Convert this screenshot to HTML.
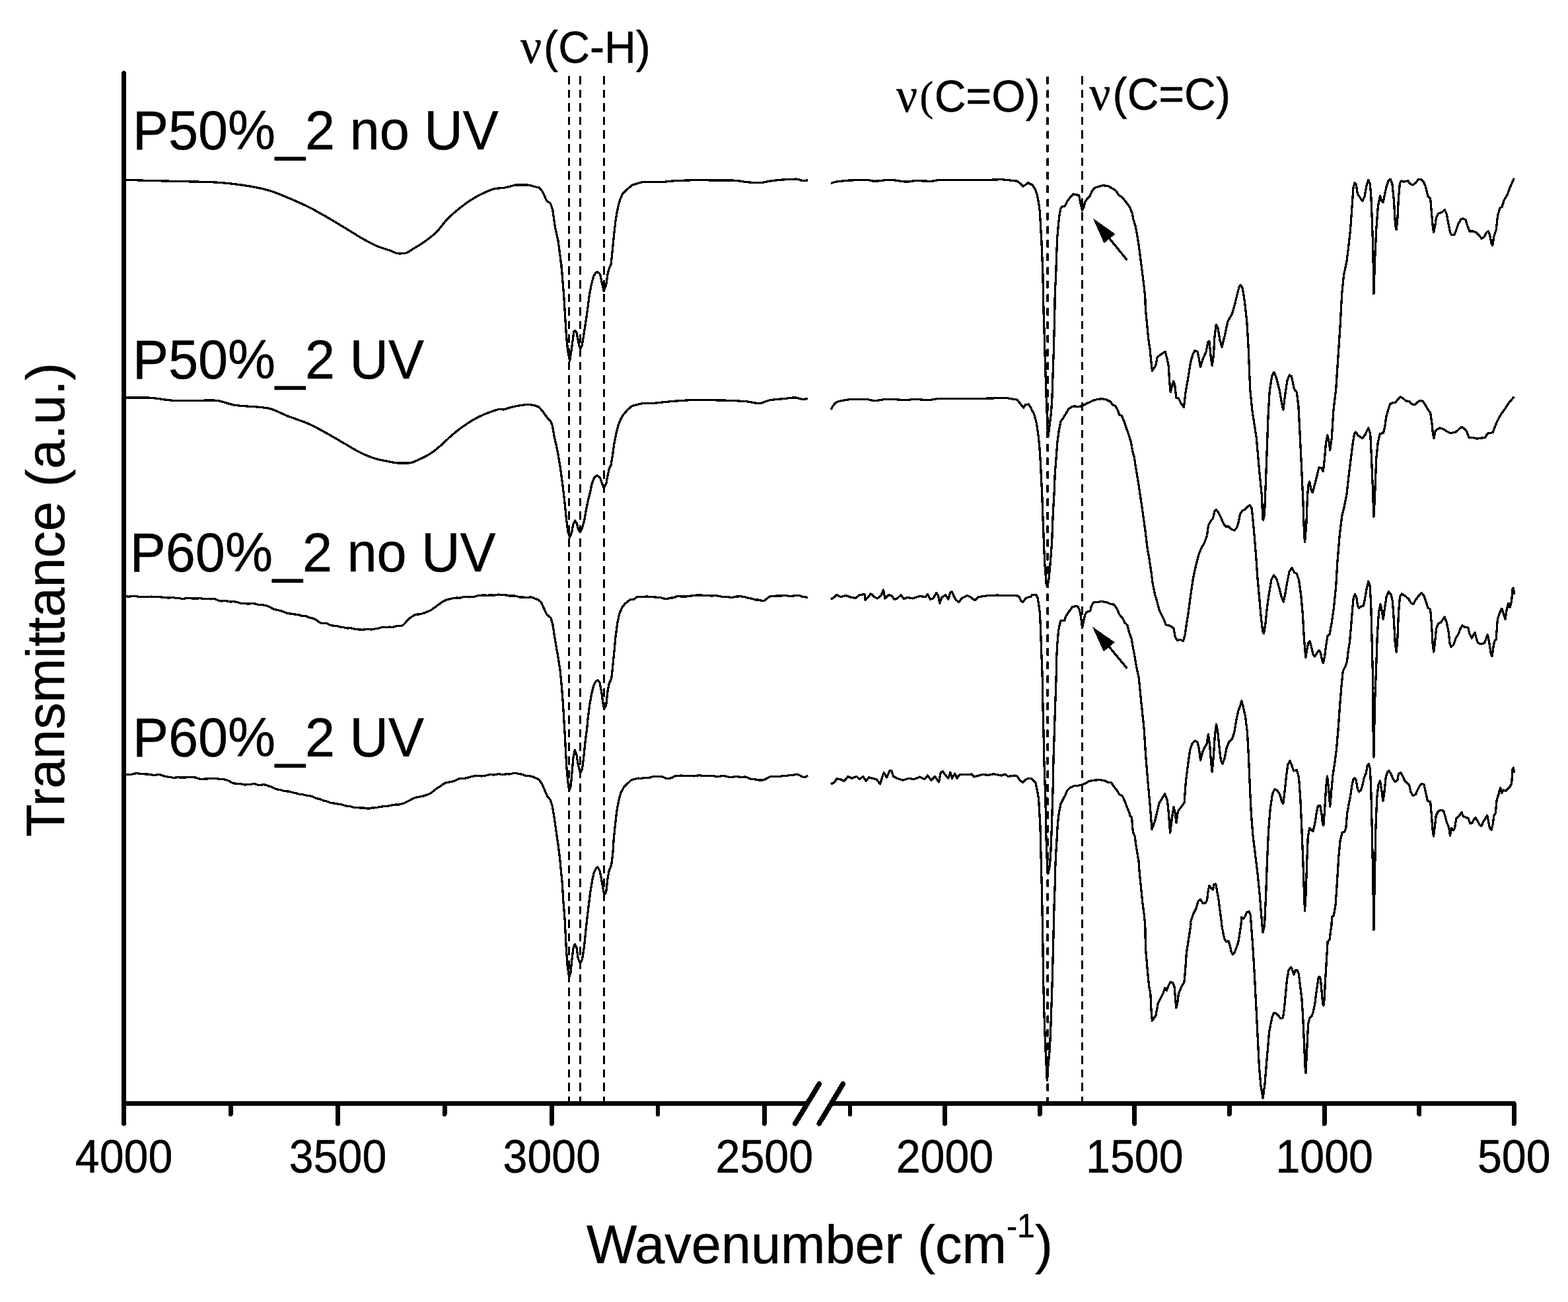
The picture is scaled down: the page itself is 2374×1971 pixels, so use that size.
<!DOCTYPE html>
<html lang="en"><head><meta charset="utf-8"><title>FTIR transmittance spectra</title>
<style>html,body{margin:0;padding:0;background:#fff;}body{width:2374px;height:1971px;overflow:hidden;}svg{display:block;}text{font-family:"Liberation Sans", Arial, Helvetica, sans-serif;fill:#000;stroke:#000;stroke-width:0.5px;stroke-linejoin:round;}.s{font-family:"Liberation Serif", "Times New Roman", serif;}</style>
</head><body>
<svg width="2374" height="1971" viewBox="0 0 2374 1971" role="img" aria-label="FTIR transmittance spectra of P50%_2 and P60%_2 with and without UV"><title>FTIR transmittance spectra</title>
<rect x="0" y="0" width="2374" height="1971" fill="#fff"/>
<g stroke="#000" fill="none" shape-rendering="crispEdges">
<line x1="861.5" y1="114.9" x2="861.5" y2="1668" stroke-width="3" stroke-dasharray="12.6 8"/>
<line x1="878.6" y1="114.9" x2="878.6" y2="1668" stroke-width="3" stroke-dasharray="12.6 8"/>
<line x1="914.5" y1="114.9" x2="914.5" y2="1668" stroke-width="3" stroke-dasharray="12.6 8"/>
<line x1="1586.1" y1="117.4" x2="1586.1" y2="1668" stroke-width="4" stroke-dasharray="8.4 12.2" stroke-linecap="round"/>
<line x1="1638.6" y1="114.9" x2="1638.6" y2="1668" stroke-width="3" stroke-dasharray="12.6 8"/>
</g>
<g shape-rendering="crispEdges">
<polyline points="190.9,272.4 193.9,272.5 196.9,272.6 199.9,272.7 202.9,272.8 205.9,272.8 208.9,272.9 211.9,273.0 214.9,273.1 217.9,273.2 221.0,273.2 224.0,273.3 227.0,273.4 230.0,273.5 233.0,273.6 236.0,273.6 239.0,273.7 242.0,273.8 245.0,273.9 248.0,274.0 251.0,274.0 254.0,274.1 257.0,274.2 260.0,274.3 263.0,274.4 266.0,274.4 269.1,274.5 272.1,274.6 275.1,274.6 278.1,274.7 281.1,274.8 284.1,274.8 287.1,274.9 290.1,274.9 293.1,275.0 296.1,275.1 299.1,275.1 302.1,275.2 305.1,275.3 308.1,275.4 311.1,275.4 314.1,275.5 317.2,275.6 320.2,275.7 323.2,275.9 326.2,276.0 329.2,276.2 332.2,276.4 335.2,276.6 338.2,276.9 341.2,277.2 344.2,277.5 347.2,277.8 350.2,278.1 353.2,278.5 356.2,278.9 359.2,279.2 362.2,279.6 365.3,280.0 368.3,280.4 371.3,280.9 374.3,281.3 377.3,281.8 380.3,282.3 383.3,282.9 386.3,283.4 389.3,284.0 392.3,284.7 395.3,285.3 398.3,286.0 401.3,286.8 404.3,287.5 407.3,288.4 410.3,289.3 413.4,290.3 416.4,291.4 419.4,292.6 422.4,293.7 425.4,295.0 428.4,296.2 431.4,297.5 434.4,298.7 437.4,300.0 440.4,301.2 443.4,302.5 446.4,303.8 449.4,305.1 452.4,306.4 455.4,307.8 458.4,309.2 461.5,310.6 464.5,312.0 467.5,313.5 470.5,315.1 473.5,316.6 476.5,318.2 479.5,319.9 482.5,321.6 485.5,323.3 488.5,325.0 491.5,326.7 494.5,328.4 497.5,330.2 500.5,331.9 503.5,333.7 506.5,335.5 509.6,337.3 512.6,339.2 515.6,341.0 518.6,342.8 521.6,344.6 524.6,346.5 527.6,348.3 530.6,350.1 533.6,352.0 536.6,353.8 539.6,355.7 542.6,357.5 545.6,359.3 548.6,361.1 551.6,362.7 554.6,364.4 557.7,366.0 560.7,367.6 563.7,369.2 566.7,370.7 569.7,372.0 572.7,373.3 575.7,374.4 578.7,375.5 581.7,376.4 584.7,377.4 587.7,378.3 590.7,379.3 593.7,380.6 596.7,381.9 599.7,383.1 602.7,383.8 605.8,383.9 608.8,383.8 611.8,383.5 614.8,383.0 617.8,381.7 620.8,379.9 623.8,377.8 626.8,375.9 629.8,374.1 632.8,372.3 635.8,370.5 638.8,368.6 641.8,366.5 644.8,364.4 647.8,362.2 650.8,359.9 653.9,357.4 656.9,354.9 659.9,352.1 662.9,349.1 665.9,345.6 668.9,341.8 671.9,337.9 674.9,334.3 677.9,331.2 680.9,328.2 683.9,325.4 686.9,322.7 689.9,320.1 692.9,317.6 695.9,315.1 698.9,312.8 702.0,310.5 705.0,308.2 708.0,306.1 711.0,304.1 714.0,302.2 717.0,300.3 720.0,298.5 723.0,296.8 726.0,295.2 729.0,293.7 732.0,292.4 735.0,291.0 738.0,289.6 741.0,288.4 744.0,287.2 747.0,286.2 750.1,285.5 753.1,285.1 756.1,284.9 759.1,284.8 762.1,284.5 765.1,283.9 768.1,283.2 771.1,282.5 774.1,281.8 777.1,280.9 780.1,280.2 783.1,279.9 786.1,279.9 789.1,279.9 792.1,279.9 795.1,279.9 798.1,279.9 801.2,280.3 804.2,281.1 807.2,281.9 810.2,282.7 813.2,283.4 816.2,284.1 820.8,289.3 824.2,296.2 827.7,304.2 833.4,307.7 836.8,318.0 840.3,343.2 844.9,363.8 848.3,389.1 850.6,409.7 850.0,400.0 851.7,422.9 854.0,451.6 855.7,480.3 857.5,508.9 859.8,531.9 862.6,546.2 864.9,531.9 867.2,514.7 868.9,502.1 870.7,500.3 872.9,503.2 874.7,512.4 877.0,523.8 878.7,527.3 881.0,523.8 883.3,510.1 885.6,495.2 887.9,480.3 890.1,464.2 892.4,445.9 895.3,431.0 898.7,418.3 901.6,413.2 905.1,411.5 908.5,414.9 911.4,428.7 914.2,440.7 917.7,431.0 920.0,414.9 922.3,406.3 925.1,400.0 927.4,377.6 929.7,354.7 932.0,334.0 935.4,314.5 938.9,301.9 942.3,293.9 949.2,287.0 957.2,280.1 966.4,277.3 969.4,276.3 972.4,275.8 975.4,275.7 978.3,275.7 981.3,275.7 984.3,275.7 987.3,275.6 990.3,275.6 993.3,275.6 996.3,275.6 999.2,275.6 1002.2,275.5 1005.2,275.3 1008.2,275.0 1011.2,274.7 1014.2,274.4 1017.1,274.1 1020.1,273.8 1023.1,273.7 1026.1,273.5 1029.1,273.4 1032.1,273.3 1035.1,273.2 1038.0,273.1 1041.0,273.0 1044.0,272.9 1047.0,272.8 1050.0,272.8 1053.0,272.8 1055.9,272.8 1058.9,272.8 1061.9,272.8 1064.9,272.8 1067.9,272.8 1070.9,272.8 1073.9,272.9 1076.8,272.9 1079.8,272.9 1082.8,272.9 1085.8,272.9 1088.8,272.9 1091.8,272.9 1094.7,273.0 1097.7,273.0 1100.7,273.0 1103.7,273.0 1106.7,273.1 1109.7,273.1 1112.7,273.3 1115.6,273.5 1118.6,273.9 1121.6,274.3 1124.6,274.7 1127.6,275.2 1130.6,275.5 1133.6,275.9 1136.5,276.1 1139.5,276.3 1142.5,276.6 1145.5,276.7 1148.5,276.8 1151.5,276.7 1154.4,276.3 1157.4,275.7 1160.4,275.1 1163.4,274.4 1166.4,274.0 1169.4,273.6 1172.4,273.2 1175.3,272.9 1178.3,272.6 1181.3,272.3 1184.3,272.1 1187.3,271.9 1190.3,271.7 1193.2,271.5 1196.2,271.4 1199.2,271.2 1202.2,271.2 1205.2,271.1 1208.2,271.3 1211.2,272.4 1214.1,273.3 1217.1,273.4 1220.1,273.2 1223.1,272.8" fill="none" stroke="#000" stroke-width="3.30" stroke-linejoin="round" stroke-linecap="butt" />
<polyline points="1258.1,277.4 1261.1,276.5 1264.1,275.6 1267.1,275.0 1270.1,274.6 1273.1,274.3 1276.1,273.9 1279.1,273.6 1282.1,273.4 1285.1,273.1 1288.1,273.0 1291.1,272.9 1294.1,272.8 1297.1,272.7 1300.1,272.7 1303.1,272.6 1306.1,272.6 1309.1,272.5 1312.1,272.5 1315.1,272.7 1318.1,273.3 1321.1,274.0 1324.1,274.2 1327.1,274.1 1330.1,273.9 1333.1,273.6 1336.1,273.2 1339.1,272.8 1342.1,272.5 1345.1,272.3 1348.1,272.3 1351.1,272.4 1354.1,272.8 1357.1,273.2 1360.1,273.7 1363.1,274.2 1366.1,274.6 1369.1,275.0 1372.1,275.1 1375.1,275.0 1378.1,274.7 1381.1,274.2 1384.1,273.8 1387.1,273.7 1390.1,273.7 1393.1,273.8 1396.1,273.9 1399.1,274.0 1402.1,274.1 1405.1,274.2 1408.1,274.2 1411.1,274.2 1414.1,273.8 1417.1,273.1 1420.1,272.6 1423.1,272.5 1426.1,272.5 1429.1,272.5 1432.1,272.6 1435.1,272.6 1438.1,272.6 1441.1,272.6 1444.1,272.7 1447.1,272.7 1450.1,272.7 1453.1,272.7 1456.1,272.8 1459.1,272.8 1462.1,272.8 1465.1,272.8 1468.1,272.8 1471.1,272.8 1474.1,272.8 1477.1,272.8 1480.1,272.7 1483.1,272.7 1486.1,272.6 1489.1,272.5 1492.1,272.5 1495.1,272.4 1498.1,272.3 1501.1,272.2 1504.1,272.1 1507.1,272.0 1510.1,271.9 1513.1,271.8 1516.1,271.7 1540.0,274.1 1545.7,278.7 1548.9,282.1 1552.6,279.8 1556.6,276.6 1562.9,280.0 1567.5,286.7 1570.4,295.9 1572.7,307.3 1574.4,321.1 1575.5,341.7 1576.9,364.7 1577.8,387.6 1578.8,410.5 1579.6,450.0 1580.1,474.4 1581.1,503.1 1581.9,531.7 1583.0,566.1 1584.1,600.5 1585.3,629.2 1585.9,647.2 1587.0,661.0 1588.7,647.2 1591.6,623.5 1593.0,600.5 1594.1,566.1 1595.3,531.7 1596.2,497.3 1597.0,462.9 1597.3,440.0 1598.5,422.0 1599.6,387.6 1600.8,358.9 1602.5,339.4 1604.2,324.5 1605.9,315.4 1608.8,312.5 1612.2,311.9 1615.7,305.0 1620.3,298.7 1625.4,293.6 1629.4,294.9 1633.5,295.3 1635.2,303.9 1636.9,311.9 1638.6,318.2 1640.9,314.2 1642.6,306.2 1645.5,301.6 1650.1,297.0 1652.9,290.1 1657.0,284.4 1662.7,282.7 1669.6,280.7 1677.6,281.5 1684.5,285.5 1689.1,288.4 1694.8,296.4 1698.2,297.6 1705.1,306.2 1710.9,314.2 1714.3,323.4 1716.0,332.6 1718.9,341.7 1721.2,353.2 1724.0,370.4 1726.3,387.6 1729.2,410.5 1732.1,433.5 1733.8,450.0 1734.4,468.7 1736.7,491.6 1738.9,514.5 1741.2,529.4 1743.0,548.9 1744.5,561.5 1749.8,553.5 1752.1,540.9 1757.9,536.3 1764.2,532.3 1767.6,545.5 1769.3,554.7 1770.5,575.3 1772.2,593.7 1774.5,584.5 1776.8,577.0 1778.7,582.8 1780.9,602.1 1784.1,602.8 1788.3,611.1 1792.5,616.6 1794.7,595.7 1798.6,573.2 1802.8,547.5 1806.0,536.3 1809.2,530.8 1813.0,532.1 1815.6,544.3 1817.5,555.6 1821.4,542.7 1825.9,533.1 1829.1,517.0 1831.0,517.0 1833.3,541.1 1835.2,553.3 1837.4,537.9 1839.0,509.0 1841.3,491.3 1843.9,496.2 1847.1,515.4 1850.0,525.1 1854.1,509.0 1858.9,486.5 1865.4,475.3 1869.5,460.8 1873.4,444.8 1876.0,434.5 1878.5,431.3 1881.4,436.7 1884.6,457.6 1887.8,486.5 1890.1,525.1 1892.7,589.3 1895.9,621.4 1902.3,663.1 1907.1,717.7 1910.3,749.8 1911.9,786.4 1912.6,787.3 1914.5,778.4 1917.7,694.9 1920.0,630.6 1922.2,592.1 1925.7,569.6 1928.9,563.2 1932.8,572.8 1937.6,592.1 1940.8,611.4 1942.8,620.4 1945.6,598.5 1948.9,576.1 1952.1,568.0 1955.3,569.6 1959.5,588.9 1963.3,593.7 1965.9,614.6 1968.1,656.3 1970.4,704.5 1972.9,759.1 1974.5,807.3 1975.5,820.7 1977.8,794.4 1979.4,752.7 1981.0,733.4 1982.6,729.2 1985.1,741.4 1987.4,745.6 1990.6,733.4 1993.8,720.6 1997.0,707.7 2000.2,708.4 2003.4,713.5 2005.7,691.7 2007.6,669.2 2009.9,658.9 2012.1,669.2 2013.7,681.4 2016.3,662.8 2018.9,621.0 2022.7,589.3 2025.9,541.1 2029.1,492.9 2031.7,444.8 2034.6,415.9 2038.8,396.6 2042.0,370.9 2044.5,348.4 2046.8,316.3 2049.0,284.2 2051.0,276.8 2053.2,279.4 2055.5,293.9 2059.0,298.7 2062.8,304.5 2066.1,297.1 2069.3,279.4 2071.8,272.3 2074.1,277.8 2075.7,293.9 2077.3,332.4 2078.9,380.6 2079.9,444.8 2081.5,396.6 2083.7,348.4 2086.3,313.1 2089.5,296.4 2091.7,303.5 2094.0,306.7 2096.6,293.9 2099.1,282.6 2102.3,273.0 2105.2,271.4 2107.8,277.8 2110.4,303.5 2112.6,342.0 2114.2,347.8 2115.8,332.4 2117.4,300.3 2119.4,277.8 2121.6,273.9 2125.5,275.2 2131.9,273.9 2135.1,278.4 2139.3,280.0 2143.8,276.2 2147.0,272.0 2151.2,271.4 2155.3,275.2 2158.5,282.6 2161.7,296.4 2165.6,300.3 2167.5,322.8 2169.5,345.2 2170.7,351.7 2172.7,342.0 2174.6,329.2 2177.8,323.4 2183.3,321.1 2187.1,317.3 2190.3,324.4 2192.9,338.8 2195.5,351.7 2197.7,355.5 2201.6,355.8 2204.8,348.4 2208.0,338.8 2212.2,331.7 2215.4,330.8 2219.2,333.0 2221.8,342.0 2225.0,350.0 2229.8,350.0 2234.6,351.7 2239.5,356.5 2243.3,361.3 2247.5,358.1 2250.7,351.7 2253.3,350.0 2255.5,354.9 2257.8,367.7 2259.7,371.6 2261.9,358.1 2265.1,348.4 2267.7,326.0 2270.9,314.7 2274.1,313.1 2277.3,302.8 2281.8,295.5 2286.0,284.2 2292.4,269.8" fill="none" stroke="#000" stroke-width="3.30" stroke-linejoin="round" stroke-linecap="butt" />
<polyline points="190.9,602.1 193.9,602.1 196.9,602.1 199.9,602.1 202.9,602.1 205.9,602.1 208.9,602.1 211.9,602.1 214.9,602.1 217.9,602.1 221.0,602.1 224.0,602.1 227.0,602.2 230.0,602.4 233.0,602.7 236.0,603.0 239.0,603.4 242.0,603.9 245.0,604.3 248.0,604.8 251.0,605.2 254.0,605.6 257.0,605.9 260.0,606.2 263.0,606.3 266.0,606.4 269.1,606.4 272.1,606.4 275.1,606.4 278.1,606.4 281.1,606.3 284.1,606.3 287.1,606.3 290.1,606.3 293.1,606.3 296.1,606.2 299.1,606.2 302.1,606.2 305.1,606.2 308.1,606.2 311.1,606.1 314.1,606.1 317.2,606.1 320.2,606.1 323.2,606.1 326.2,606.2 329.2,606.6 332.2,607.1 335.2,607.8 338.2,608.6 341.2,609.5 344.2,610.4 347.2,611.3 350.2,612.1 353.2,612.8 356.2,613.3 359.2,613.7 362.2,614.1 365.3,614.4 368.3,614.6 371.3,614.8 374.3,615.1 377.3,615.2 380.3,615.4 383.3,615.6 386.3,615.8 389.3,616.0 392.3,616.3 395.3,616.6 398.3,616.9 401.3,617.3 404.3,617.7 407.3,618.3 410.3,619.1 413.4,620.1 416.4,621.3 419.4,622.6 422.4,623.9 425.4,625.3 428.4,626.7 431.4,628.0 434.4,629.3 437.4,630.5 440.4,631.7 443.4,632.7 446.4,633.8 449.4,634.8 452.4,635.9 455.4,637.0 458.4,638.1 461.5,639.2 464.5,640.4 467.5,641.7 470.5,643.1 473.5,644.5 476.5,646.0 479.5,647.6 482.5,649.2 485.5,650.8 488.5,652.5 491.5,654.2 494.5,655.8 497.5,657.5 500.5,659.2 503.5,660.9 506.5,662.7 509.6,664.4 512.6,666.2 515.6,668.0 518.6,669.8 521.6,671.5 524.6,673.2 527.6,675.0 530.6,676.8 533.6,678.6 536.6,680.3 539.6,682.0 542.6,683.7 545.6,685.2 548.6,686.6 551.6,688.0 554.6,689.3 557.7,690.5 560.7,691.7 563.7,692.8 566.7,693.7 569.7,694.6 572.7,695.4 575.7,696.1 578.7,696.8 581.7,697.4 584.7,698.0 587.7,698.5 590.7,699.1 593.7,699.7 596.7,700.3 599.7,700.7 602.7,701.0 605.8,701.0 608.8,701.0 611.8,701.0 614.8,701.0 617.8,701.0 620.8,700.8 623.8,700.1 626.8,699.1 629.8,697.7 632.8,696.3 635.8,695.0 638.8,693.6 641.8,692.2 644.8,690.6 647.8,689.0 650.8,687.2 653.9,685.2 656.9,683.1 659.9,680.7 662.9,678.2 665.9,675.6 668.9,673.0 671.9,670.3 674.9,667.4 677.9,664.6 680.9,661.8 683.9,659.1 686.9,656.6 689.9,654.1 692.9,651.7 695.9,649.4 698.9,647.1 702.0,644.9 705.0,642.9 708.0,640.8 711.0,638.9 714.0,637.0 717.0,635.3 720.0,633.6 723.0,632.1 726.0,630.6 729.0,629.1 732.0,627.8 735.0,626.5 738.0,625.4 741.0,624.3 744.0,623.1 747.0,622.0 750.1,620.9 753.1,620.1 756.1,619.5 759.1,619.3 762.1,620.0 765.1,619.3 768.1,618.3 771.1,617.2 774.1,616.4 777.1,615.7 780.1,615.1 783.1,614.5 786.1,614.0 789.1,613.5 792.1,613.1 795.1,612.7 798.1,612.5 801.2,612.5 804.2,612.9 807.2,613.4 810.2,614.1 813.2,615.1 816.2,616.5 821.9,623.0 828.8,632.7 833.4,637.3 836.3,644.2 839.1,660.3 843.7,680.9 847.7,703.8 851.2,729.1 854.0,752.0 856.9,780.0 857.5,785.9 859.8,804.2 862.6,813.4 865.5,806.5 867.8,793.9 870.7,788.2 873.5,792.7 875.8,801.9 878.5,805.4 881.5,799.6 885.0,785.9 888.4,766.4 891.9,751.5 894.7,740.0 895.3,734.8 897.0,730.2 899.9,722.8 903.9,719.7 908.5,723.3 911.4,731.4 914.2,738.8 917.7,732.5 920.0,719.9 922.3,709.6 925.1,703.8 927.4,690.1 929.7,672.9 932.6,658.0 936.0,644.2 940.0,633.9 943.5,628.2 950.3,620.1 957.2,614.4 966.4,612.1 969.4,611.3 972.4,610.8 975.4,610.7 978.3,610.6 981.3,610.5 984.3,610.5 987.3,610.5 990.3,610.3 993.3,610.1 996.3,609.7 999.2,609.3 1002.2,609.0 1005.2,608.7 1008.2,608.4 1011.2,608.1 1014.2,607.8 1017.1,607.5 1020.1,607.3 1023.1,607.1 1026.1,606.9 1029.1,606.7 1032.1,606.5 1035.1,606.3 1038.0,606.1 1041.0,605.9 1044.0,605.8 1047.0,605.7 1050.0,605.6 1053.0,605.6 1055.9,605.6 1058.9,605.7 1061.9,605.7 1064.9,605.7 1067.9,605.7 1070.9,605.7 1073.9,605.8 1076.8,605.8 1079.8,605.8 1082.8,605.8 1085.8,605.9 1088.8,605.9 1091.8,606.0 1094.7,606.0 1097.7,606.1 1100.7,606.2 1103.7,606.3 1106.7,606.4 1109.7,606.5 1112.7,606.7 1115.6,606.8 1118.6,607.0 1121.6,607.2 1124.6,607.3 1127.6,607.5 1130.6,607.8 1133.6,608.2 1136.5,608.7 1139.5,609.3 1142.5,609.9 1145.5,610.3 1148.5,610.5 1151.5,610.3 1154.4,609.6 1157.4,608.5 1160.4,607.4 1163.4,606.3 1166.4,605.6 1169.4,605.2 1172.4,604.9 1175.3,604.6 1178.3,604.3 1181.3,604.1 1184.3,603.8 1187.3,603.5 1190.3,603.2 1193.2,602.8 1196.2,602.4 1199.2,602.1 1202.2,601.9 1205.2,602.0 1208.2,602.7 1211.2,603.6 1214.1,604.2 1217.1,604.2 1220.1,604.0 1223.1,603.6" fill="none" stroke="#000" stroke-width="3.30" stroke-linejoin="round" stroke-linecap="butt" />
<polyline points="1258.1,620.0 1261.1,614.6 1264.1,610.7 1267.1,608.4 1270.1,607.5 1273.1,606.9 1276.1,606.4 1279.0,605.8 1282.0,605.3 1285.0,604.8 1288.0,604.4 1291.0,604.2 1294.0,604.2 1297.0,604.2 1300.0,604.2 1303.0,604.2 1306.0,604.2 1309.0,604.2 1312.0,604.4 1315.0,604.9 1318.0,605.6 1321.0,606.2 1324.0,606.5 1327.0,606.4 1330.0,606.0 1333.0,605.5 1336.0,605.0 1339.0,604.6 1342.0,604.3 1345.0,604.2 1348.0,604.3 1351.0,604.4 1354.0,604.6 1357.0,604.8 1360.0,605.0 1363.0,605.3 1366.0,605.4 1369.0,605.6 1372.0,605.6 1375.0,605.5 1377.9,605.0 1380.9,604.5 1383.9,604.2 1386.9,604.3 1389.9,604.5 1392.9,604.8 1395.9,605.1 1398.9,605.4 1401.9,605.6 1404.9,605.6 1407.9,605.4 1410.9,605.0 1413.9,604.5 1416.9,604.0 1419.9,603.7 1422.9,603.6 1425.9,603.6 1428.9,603.6 1431.9,603.5 1434.9,603.5 1437.9,603.5 1440.9,603.5 1443.9,603.5 1446.9,603.5 1449.9,603.5 1452.9,603.5 1455.9,603.5 1458.9,603.5 1461.9,603.4 1464.9,603.4 1467.9,603.4 1470.9,603.4 1473.9,603.4 1476.9,603.4 1479.8,603.4 1482.8,603.3 1485.8,603.3 1488.8,603.2 1491.8,603.2 1494.8,603.1 1497.8,603.0 1500.8,602.9 1503.8,602.9 1506.8,602.8 1509.8,602.6 1512.8,602.5 1515.8,602.4 1518.8,602.3 1521.8,602.2 1540.0,605.1 1544.6,610.9 1549.7,617.2 1552.6,612.6 1557.2,612.0 1560.6,616.6 1562.4,621.2 1565.2,625.8 1567.5,633.8 1569.2,640.0 1569.8,643.8 1572.1,659.8 1573.8,675.9 1575.3,698.8 1576.7,727.5 1577.8,750.4 1578.8,779.1 1579.9,807.7 1580.7,830.0 1581.9,854.4 1584.1,883.1 1585.9,888.8 1588.2,875.0 1590.5,848.7 1592.7,820.0 1593.3,802.0 1594.5,773.3 1596.2,744.7 1597.3,716.0 1599.1,693.1 1600.8,670.1 1603.1,652.9 1605.9,638.0 1609.9,632.6 1613.4,626.9 1618.0,618.9 1623.7,615.4 1627.7,614.9 1630.6,616.0 1636.3,614.9 1640.9,613.1 1647.8,609.7 1654.7,606.3 1661.5,604.5 1668.4,603.6 1675.3,605.1 1681.0,608.0 1685.1,613.1 1688.5,614.3 1691.9,620.0 1694.8,628.1 1698.2,629.2 1702.8,640.0 1701.7,636.9 1705.1,647.2 1709.1,658.7 1712.6,670.1 1714.9,683.9 1717.2,691.9 1720.0,710.3 1723.5,730.9 1726.9,753.8 1730.3,776.8 1733.8,802.0 1737.2,830.0 1739.5,842.9 1743.0,865.9 1745.3,884.2 1748.7,900.3 1752.1,911.7 1755.0,923.2 1758.4,930.1 1761.9,937.0 1765.3,946.1 1771.6,947.3 1776.8,950.7 1779.3,964.6 1782.5,969.4 1787.3,968.4 1791.5,970.4 1794.1,961.4 1796.3,945.3 1798.9,929.3 1802.8,900.4 1806.6,874.7 1810.8,855.4 1815.0,839.4 1818.8,829.7 1823.6,821.7 1827.5,810.5 1829.4,796.0 1832.3,789.6 1836.5,784.8 1838.7,774.5 1841.3,771.3 1844.5,775.8 1848.4,783.2 1852.5,792.8 1855.7,797.0 1859.9,797.0 1863.8,800.8 1868.6,803.1 1872.4,799.2 1875.0,791.2 1877.6,778.4 1880.5,773.5 1884.6,771.3 1889.5,766.5 1892.0,764.9 1894.9,768.7 1896.5,781.6 1899.1,810.5 1901.7,842.6 1903.9,874.7 1906.5,903.6 1909.4,935.7 1911.9,956.6 1913.5,959.1 1915.8,945.3 1918.4,919.6 1921.6,897.2 1924.8,877.9 1928.6,870.8 1932.8,876.3 1937.0,890.7 1940.2,903.6 1943.1,911.0 1945.6,900.4 1948.9,881.1 1952.1,865.1 1955.9,859.6 1959.5,866.7 1963.3,868.3 1966.5,877.9 1969.7,900.4 1972.3,929.3 1974.5,967.8 1976.8,995.1 1978.7,983.9 1981.0,972.6 1983.2,971.0 1985.8,980.6 1988.0,990.3 1990.6,994.1 1993.8,988.7 1997.0,984.5 1999.6,988.7 2001.8,999.9 2003.4,1003.8 2005.7,993.5 2007.6,977.4 2009.9,963.0 2013.1,959.8 2016.3,942.1 2019.5,919.6 2022.7,887.5 2025.0,849.0 2028.2,810.5 2031.7,781.6 2035.6,765.5 2038.8,749.5 2042.0,720.6 2045.2,694.9 2048.4,669.2 2050.6,656.3 2052.6,654.1 2055.8,658.9 2062.8,663.4 2067.0,657.9 2071.8,647.7 2074.7,656.3 2076.3,688.4 2078.3,736.6 2079.9,782.2 2081.5,752.7 2083.7,694.9 2086.3,669.2 2089.5,656.3 2094.3,655.7 2096.6,647.1 2098.8,631.0 2101.4,621.4 2104.6,611.7 2107.8,610.1 2112.6,609.2 2116.8,604.4 2120.0,600.8 2123.9,602.8 2128.7,606.9 2133.5,607.6 2137.3,611.7 2142.5,612.7 2146.3,608.5 2150.5,606.3 2154.4,607.6 2157.6,612.4 2161.7,619.8 2165.6,624.6 2167.9,640.6 2169.5,656.7 2171.1,663.1 2173.0,653.5 2175.2,650.3 2180.1,648.0 2185.5,649.6 2191.3,653.5 2196.1,655.7 2204.1,654.1 2209.0,649.6 2212.8,646.4 2217.0,648.7 2220.8,653.5 2224.0,662.5 2229.8,662.5 2236.2,664.1 2242.7,663.1 2248.4,662.5 2252.3,656.1 2257.1,655.4 2260.3,654.5 2263.5,645.5 2267.7,635.8 2273.2,626.2 2278.0,619.8 2284.4,610.1 2292.4,600.5" fill="none" stroke="#000" stroke-width="3.30" stroke-linejoin="round" stroke-linecap="butt" />
<polyline points="190.9,902.4 193.9,903.2 196.9,903.1 199.9,902.5 202.9,902.4 205.9,902.6 208.9,903.1 211.9,903.6 214.9,903.7 217.9,903.6 220.9,903.7 223.9,903.6 226.9,903.3 229.9,903.1 232.9,903.5 235.9,903.7 238.9,903.6 241.9,903.8 244.9,904.0 247.9,904.4 250.9,904.7 253.9,904.9 256.9,905.0 259.9,904.2 262.9,904.3 265.9,905.5 268.9,905.4 271.9,905.4 274.9,906.6 277.9,906.7 280.9,905.8 283.9,905.5 286.9,905.4 289.9,905.8 292.9,906.1 295.9,906.1 298.9,906.1 301.9,905.7 304.9,905.9 307.9,906.6 310.9,906.5 313.9,906.5 316.9,906.8 319.9,906.9 322.9,906.6 325.9,906.9 328.9,908.2 331.9,909.5 334.9,910.1 337.9,909.8 340.9,909.5 343.9,909.9 346.9,910.8 349.9,911.0 352.9,910.7 355.9,910.9 358.9,911.5 361.9,912.6 364.9,913.4 367.9,913.4 370.9,913.5 373.9,914.0 376.9,914.1 379.9,913.7 382.9,913.5 385.9,914.0 388.9,914.9 391.9,915.5 394.9,915.7 397.9,915.8 400.9,916.3 403.9,917.2 406.9,918.2 409.9,919.7 412.9,921.7 415.9,922.7 418.9,923.1 421.9,923.9 424.9,924.7 427.9,925.5 431.0,926.9 434.0,928.0 437.0,928.6 440.0,929.1 443.0,929.5 446.0,930.1 449.0,930.2 452.0,930.5 455.0,931.8 458.0,932.4 461.0,932.2 464.0,933.0 467.0,934.4 470.0,935.3 473.0,936.0 476.0,936.9 479.0,938.6 482.0,940.9 485.0,942.9 488.0,943.8 491.0,943.7 494.0,943.6 497.0,944.6 500.0,946.2 503.0,947.0 506.0,947.2 509.0,947.4 512.0,948.2 515.0,949.1 518.0,949.4 521.0,949.8 524.0,950.8 527.0,951.0 530.0,950.6 533.0,951.1 536.0,952.1 539.0,952.5 542.0,952.9 545.0,953.1 548.0,953.2 551.0,953.1 554.0,952.7 557.0,952.5 560.0,952.7 563.0,953.0 566.0,952.4 569.0,951.6 572.0,951.4 575.0,950.6 578.0,949.6 581.0,949.6 584.0,949.9 587.0,949.4 590.0,949.1 593.0,949.3 596.0,949.1 599.0,948.2 602.0,947.4 605.0,947.3 608.0,947.2 611.0,945.6 614.0,942.4 617.0,938.9 620.0,936.0 623.0,933.9 626.0,932.0 629.0,930.4 632.0,930.1 635.0,929.9 638.0,929.1 641.0,928.4 644.0,927.3 647.0,926.0 650.0,924.9 653.0,923.3 656.0,921.1 659.0,919.1 662.0,916.7 665.0,914.6 668.0,912.3 671.0,910.5 674.0,909.0 677.0,907.6 680.0,907.0 683.0,906.4 686.0,905.7 689.0,905.2 692.0,905.1 695.0,905.2 698.0,904.8 701.0,903.9 704.0,903.2 707.0,903.5 710.0,903.9 713.0,903.8 716.0,903.6 719.0,903.3 722.0,902.1 725.0,901.2 728.0,901.2 731.0,901.0 734.0,901.0 737.0,901.3 740.0,901.1 743.0,900.9 746.0,901.1 749.0,901.2 752.0,900.4 755.0,900.1 758.0,900.5 761.0,900.6 764.0,900.7 767.0,901.0 770.0,901.8 773.0,902.1 776.0,902.0 779.0,902.0 782.0,902.4 785.0,903.6 788.0,904.1 791.0,904.0 794.0,904.2 797.0,904.8 800.0,904.5 803.0,903.7 806.0,904.4 809.0,905.7 812.0,907.0 815.0,908.0 819.6,912.0 823.6,921.2 827.7,930.3 833.4,934.9 834.0,935.5 836.8,945.2 840.3,968.2 844.3,991.1 847.7,1011.7 850.0,1034.7 852.3,1063.3 854.0,1092.0 855.7,1120.0 856.3,1134.4 858.0,1163.1 859.8,1182.6 861.7,1197.5 864.3,1189.4 866.1,1168.8 867.8,1148.2 870.3,1135.5 872.9,1142.4 875.2,1157.3 878.5,1169.9 881.5,1164.2 883.8,1145.9 886.1,1122.9 889.0,1100.0 889.6,1092.0 892.4,1069.1 895.3,1051.9 898.7,1038.1 902.2,1031.2 905.1,1029.5 907.9,1032.9 910.8,1048.4 913.1,1065.6 914.6,1073.1 917.7,1067.9 920.0,1046.1 922.3,1034.7 925.7,1027.2 927.4,1011.7 929.7,988.8 932.0,963.6 934.9,942.9 937.7,929.2 941.7,920.0 945.8,914.3 953.8,908.0 959.5,907.4 964.1,904.0 967.1,903.3 970.1,903.2 973.1,903.8 976.2,903.2 979.2,902.9 982.2,903.4 985.2,903.7 988.2,903.8 991.2,903.9 994.2,904.2 997.2,904.2 1000.2,904.5 1003.3,905.5 1006.3,906.4 1009.3,906.7 1012.3,905.9 1015.3,905.0 1018.3,904.9 1021.3,904.3 1024.3,902.9 1027.3,902.6 1030.4,902.9 1033.4,902.9 1036.4,902.9 1039.4,902.9 1042.4,902.6 1045.4,902.1 1048.4,901.8 1051.4,901.3 1054.5,901.0 1057.5,901.1 1060.5,900.9 1063.5,901.3 1066.5,901.8 1069.5,901.3 1072.5,901.2 1075.5,901.9 1078.5,902.1 1081.6,901.6 1084.6,901.8 1087.6,902.3 1090.6,902.8 1093.6,903.6 1096.6,903.6 1099.6,903.5 1102.6,903.7 1105.6,904.3 1108.7,904.6 1111.7,903.6 1114.7,903.1 1117.7,903.0 1120.7,902.6 1123.7,903.1 1126.7,903.6 1129.7,904.3 1132.8,905.3 1135.8,905.7 1138.8,906.4 1141.8,907.7 1144.8,908.1 1147.8,907.9 1150.8,908.6 1153.8,909.5 1156.8,909.5 1159.9,907.4 1162.9,904.5 1165.9,902.9 1168.9,902.7 1171.9,902.3 1174.9,902.1 1177.9,902.1 1180.9,902.1 1183.9,901.9 1187.0,901.4 1190.0,901.4 1193.0,902.1 1196.0,902.7 1199.0,902.3 1202.0,901.9 1205.0,901.8 1208.0,901.5 1211.1,901.8 1214.1,903.0 1217.1,903.4 1220.1,904.1 1223.1,904.5" fill="none" stroke="#000" stroke-width="3.30" stroke-linejoin="round" stroke-linecap="butt" />
<polyline points="1258.1,907.4 1262.4,904.5 1266.7,900.2 1272.4,903.6 1281.0,901.6 1289.6,904.5 1295.3,905.4 1301.1,900.8 1309.1,899.6 1309.7,908.2 1314.0,904.5 1318.3,898.8 1324.0,903.6 1328.3,905.9 1334.0,901.6 1337.5,893.0 1339.8,905.9 1345.5,900.8 1349.8,901.6 1354.1,907.4 1358.4,905.9 1364.1,900.8 1368.4,906.5 1374.2,904.5 1381.3,905.9 1392.8,902.5 1401.4,903.6 1404.3,899.6 1408.6,907.4 1412.9,905.9 1417.7,897.3 1420.6,901.6 1422.9,913.1 1425.8,904.5 1431.5,900.8 1435.8,907.4 1438.7,896.8 1441.5,895.9 1444.4,903.1 1447.3,908.2 1451.6,911.7 1455.9,905.9 1464.5,901.6 1470.2,904.5 1475.9,908.8 1481.7,903.6 1496.0,901.6 1510.3,901.1 1524.7,901.6 1539.0,901.6 1540.0,902.0 1543.4,903.7 1545.7,909.4 1548.6,911.7 1552.6,906.0 1556.1,904.3 1561.2,903.1 1562.4,900.3 1568.7,900.3 1571.0,904.9 1572.7,915.2 1574.2,926.6 1575.3,946.1 1576.1,969.1 1576.9,992.0 1578.1,1020.0 1578.4,1044.4 1579.2,1078.8 1580.1,1113.2 1580.7,1147.6 1581.9,1182.0 1583.0,1210.0 1583.6,1257.3 1585.3,1303.2 1586.8,1322.7 1588.7,1314.7 1590.5,1297.5 1592.2,1257.3 1593.9,1200.0 1594.5,1182.0 1595.0,1147.6 1596.2,1113.2 1597.3,1078.8 1598.5,1044.4 1599.6,1010.0 1599.6,997.7 1600.8,974.8 1602.5,955.3 1604.2,946.1 1605.9,939.3 1611.7,939.3 1613.4,933.5 1618.0,926.6 1623.7,918.6 1630.6,917.5 1633.5,920.9 1635.7,928.9 1637.5,941.5 1638.6,950.7 1640.3,941.5 1642.6,931.2 1644.9,926.6 1650.7,924.9 1652.4,917.5 1655.8,911.7 1661.5,911.7 1667.3,910.4 1675.3,911.7 1682.2,914.6 1686.8,915.2 1691.4,922.1 1694.8,930.1 1700.5,937.0 1702.8,942.7 1706.8,946.1 1709.7,957.6 1713.1,966.8 1715.4,980.5 1717.7,992.0 1720.6,1009.2 1724.1,1025.7 1727.3,1057.8 1732.1,1102.8 1734.7,1144.5 1737.9,1183.0 1741.1,1218.4 1744.0,1255.3 1748.2,1244.0 1751.4,1231.2 1755.2,1215.1 1759.4,1208.7 1763.6,1201.7 1767.4,1211.9 1769.4,1231.2 1771.6,1260.7 1774.5,1237.6 1777.1,1221.6 1779.3,1231.2 1780.9,1245.6 1783.5,1228.0 1788.3,1221.6 1793.1,1215.1 1795.4,1183.0 1798.6,1157.3 1801.8,1134.9 1805.3,1125.2 1809.2,1121.4 1813.0,1123.6 1815.6,1134.9 1817.5,1150.9 1820.4,1139.7 1823.6,1131.7 1826.8,1126.8 1829.4,1111.7 1831.7,1128.4 1833.6,1154.1 1835.2,1168.6 1837.4,1144.5 1839.4,1112.4 1841.6,1096.3 1843.9,1109.2 1846.1,1131.7 1848.4,1150.9 1850.9,1156.4 1854.1,1147.7 1857.3,1131.7 1860.6,1123.6 1865.4,1118.8 1868.6,1109.2 1871.8,1089.9 1875.0,1075.5 1877.6,1069.0 1879.8,1061.0 1882.4,1070.6 1885.6,1085.1 1888.5,1109.2 1890.4,1144.5 1892.7,1199.1 1894.3,1231.2 1896.8,1263.3 1900.7,1295.4 1903.9,1321.1 1907.1,1353.2 1909.7,1385.3 1911.9,1411.7 1914.5,1401.4 1916.7,1353.2 1918.4,1305.1 1920.6,1256.9 1923.2,1224.8 1926.4,1202.3 1929.6,1194.9 1933.8,1196.5 1937.6,1202.3 1940.8,1213.5 1942.8,1216.7 1945.0,1199.1 1947.3,1176.6 1949.8,1157.3 1953.0,1151.9 1955.9,1158.9 1958.5,1167.0 1963.3,1165.4 1966.5,1176.6 1968.8,1208.7 1970.7,1250.5 1972.9,1305.1 1974.5,1353.2 1975.5,1378.9 1977.1,1353.2 1978.7,1305.1 1980.3,1266.5 1982.6,1253.7 1985.8,1256.9 1988.0,1258.5 1990.6,1247.3 1993.2,1231.2 1995.4,1220.0 1998.6,1219.3 2000.9,1231.2 2002.5,1247.3 2003.8,1249.8 2005.7,1224.8 2007.6,1192.7 2009.5,1175.0 2011.5,1192.7 2013.7,1220.9 2015.6,1199.1 2017.9,1173.4 2020.5,1157.3 2023.4,1134.9 2025.9,1106.0 2028.2,1073.9 2030.7,1041.7 2033.3,1016.1 2037.2,1008.0 2039.7,1000.0 2041.0,987.1 2043.6,971.0 2045.8,945.3 2047.8,919.6 2049.4,903.6 2051.6,899.7 2053.9,905.2 2055.5,916.4 2057.4,920.3 2061.2,918.0 2064.5,917.1 2067.0,903.6 2069.3,890.7 2071.8,880.1 2074.1,887.5 2075.7,913.2 2077.3,977.4 2078.9,1041.7 2078.3,1064.2 2079.9,1146.1 2081.5,1064.2 2083.7,1009.5 2085.3,961.4 2087.6,926.1 2090.1,914.8 2092.4,926.1 2094.3,937.3 2096.6,919.6 2099.1,903.6 2102.3,895.6 2106.2,900.4 2108.4,910.0 2110.4,938.9 2112.3,974.2 2114.2,987.1 2115.8,967.8 2117.4,929.3 2119.4,903.6 2122.3,898.8 2127.1,902.0 2132.8,906.8 2136.1,912.6 2139.9,914.8 2143.1,908.4 2147.9,902.0 2152.1,897.2 2156.0,902.0 2159.2,911.6 2161.7,919.6 2165.6,922.8 2167.5,945.3 2169.1,974.2 2170.7,987.1 2172.7,971.0 2174.6,951.7 2177.8,943.7 2181.7,942.1 2187.1,934.1 2190.3,942.1 2192.9,955.0 2195.1,974.2 2197.1,979.0 2200.9,975.8 2204.1,966.2 2208.0,959.8 2211.2,951.7 2213.8,946.9 2217.6,949.5 2222.8,950.1 2225.0,959.8 2228.2,966.2 2230.8,961.4 2233.0,957.5 2235.6,967.8 2237.9,973.6 2242.7,974.9 2247.5,973.6 2250.1,966.2 2252.3,960.7 2254.5,971.0 2257.1,988.7 2259.0,993.5 2261.3,977.4 2262.6,971.0 2265.1,967.8 2267.4,937.3 2270.0,929.3 2273.8,921.2 2276.4,929.3 2279.0,937.3 2281.2,922.8 2283.8,913.2 2286.0,919.6 2288.6,910.0 2290.2,890.7 2291.5,890.1 2292.4,900.4" fill="none" stroke="#000" stroke-width="3.30" stroke-linejoin="round" stroke-linecap="butt" />
<polyline points="190.9,1172.2 193.9,1172.5 196.9,1172.7 199.9,1172.2 202.9,1171.2 205.9,1170.8 208.9,1170.8 211.9,1171.3 214.9,1171.7 217.9,1171.8 221.0,1172.0 224.0,1172.1 227.0,1172.5 230.0,1173.0 233.0,1173.6 236.0,1173.2 239.0,1172.6 242.0,1172.8 245.0,1173.6 248.0,1174.8 251.0,1175.5 254.0,1176.0 257.0,1176.5 260.0,1176.9 263.0,1177.5 266.0,1177.1 269.1,1176.7 272.1,1176.9 275.1,1177.0 278.1,1177.0 281.1,1176.9 284.1,1176.6 287.1,1176.5 290.1,1176.7 293.1,1176.7 296.1,1177.1 299.1,1178.2 302.1,1179.1 305.1,1179.4 308.1,1179.2 311.1,1179.1 314.1,1178.9 317.2,1178.6 320.2,1178.8 323.2,1178.7 326.2,1178.4 329.2,1178.8 332.2,1179.3 335.2,1179.6 338.2,1179.6 341.2,1180.3 344.2,1181.2 347.2,1182.4 350.2,1184.5 353.2,1185.8 356.2,1186.1 359.2,1186.5 362.2,1186.6 365.3,1186.8 368.3,1187.6 371.3,1188.1 374.3,1187.7 377.3,1187.8 380.3,1187.6 383.3,1186.4 386.3,1186.7 389.3,1188.0 392.3,1188.6 395.3,1188.3 398.3,1187.7 401.3,1188.0 404.3,1189.0 407.3,1190.1 410.3,1191.0 413.4,1192.3 416.4,1193.9 419.4,1194.9 422.4,1195.3 425.4,1196.0 428.4,1197.0 431.4,1197.7 434.4,1197.9 437.4,1198.1 440.4,1198.9 443.4,1199.8 446.4,1200.4 449.4,1201.1 452.4,1202.0 455.4,1202.6 458.4,1202.7 461.5,1203.5 464.5,1204.3 467.5,1204.6 470.5,1205.0 473.5,1206.0 476.5,1207.5 479.5,1208.7 482.5,1209.4 485.5,1210.1 488.5,1211.4 491.5,1212.5 494.5,1212.9 497.5,1214.1 500.5,1215.6 503.5,1215.8 506.5,1216.0 509.6,1216.7 512.6,1217.3 515.6,1217.5 518.6,1218.3 521.6,1219.4 524.6,1220.1 527.6,1220.3 530.6,1220.7 533.6,1221.8 536.6,1222.6 539.6,1222.4 542.6,1222.7 545.6,1223.1 548.6,1223.0 551.6,1223.1 554.6,1223.7 557.7,1224.2 560.7,1223.7 563.7,1222.8 566.7,1222.9 569.7,1222.7 572.7,1221.9 575.7,1221.4 578.7,1221.0 581.7,1220.6 584.7,1220.3 587.7,1220.1 590.7,1219.6 593.7,1218.9 596.7,1218.4 599.7,1218.0 602.7,1218.2 605.8,1217.6 608.8,1216.7 611.8,1216.0 614.8,1214.5 617.8,1212.9 620.8,1211.5 623.8,1209.6 626.8,1208.3 629.8,1207.2 632.8,1206.6 635.8,1206.1 638.8,1205.4 641.8,1204.8 644.8,1203.8 647.8,1202.8 650.8,1201.4 653.9,1199.4 656.9,1197.1 659.9,1194.6 662.9,1192.5 665.9,1190.7 668.9,1188.6 671.9,1186.5 674.9,1185.1 677.9,1184.3 680.9,1183.8 683.9,1183.2 686.9,1182.6 689.9,1181.4 692.9,1179.7 695.9,1178.7 698.9,1178.8 702.0,1178.8 705.0,1178.0 708.0,1177.4 711.0,1176.4 714.0,1175.7 717.0,1175.0 720.0,1174.1 723.0,1174.4 726.0,1174.8 729.0,1174.9 732.0,1174.8 735.0,1174.2 738.0,1173.3 741.0,1172.7 744.0,1172.5 747.0,1173.0 750.1,1172.8 753.1,1171.9 756.1,1171.8 759.1,1172.3 762.1,1172.5 765.1,1172.0 768.1,1171.7 771.1,1172.0 774.1,1171.4 777.1,1170.5 780.1,1170.3 783.1,1170.9 786.1,1171.6 789.1,1172.0 792.1,1172.9 795.1,1174.1 798.1,1174.7 801.2,1174.8 804.2,1175.2 807.2,1176.1 810.2,1177.5 813.2,1178.6 816.2,1180.3 820.8,1187.1 824.2,1195.2 828.8,1205.5 833.4,1211.2 836.3,1220.4 839.1,1237.6 842.0,1258.2 844.9,1277.7 847.7,1300.0 848.9,1312.9 851.2,1335.9 852.9,1364.5 855.2,1393.2 856.3,1416.1 857.5,1439.1 859.2,1462.0 861.7,1479.2 863.8,1473.5 865.5,1456.3 867.8,1436.8 870.3,1429.3 872.9,1434.5 875.2,1450.5 878.5,1458.6 881.5,1452.8 884.4,1433.3 886.7,1410.4 889.0,1389.8 891.3,1370.3 893.6,1351.9 896.5,1333.6 899.3,1321.0 902.8,1314.1 905.4,1312.9 908.5,1319.8 911.4,1335.9 914.8,1354.8 917.7,1350.8 920.0,1330.1 922.3,1317.5 925.7,1309.5 928.0,1290.0 929.1,1272.0 931.4,1249.1 933.7,1228.4 936.6,1212.4 940.0,1199.8 944.6,1191.7 950.3,1186.0 956.1,1180.6 966.4,1178.0 969.4,1178.7 972.4,1178.1 975.4,1177.4 978.3,1177.5 981.3,1177.4 984.3,1176.9 987.3,1176.0 990.3,1175.6 993.3,1175.7 996.3,1175.7 999.2,1175.6 1002.2,1175.6 1005.2,1177.0 1008.2,1178.5 1011.2,1178.6 1014.2,1178.3 1017.1,1177.5 1020.1,1175.8 1023.1,1174.6 1026.1,1174.4 1029.1,1174.2 1032.1,1174.1 1035.1,1174.4 1038.0,1174.5 1041.0,1174.4 1044.0,1174.5 1047.0,1174.6 1050.0,1174.9 1053.0,1174.8 1055.9,1174.1 1058.9,1173.7 1061.9,1174.2 1064.9,1174.8 1067.9,1174.7 1070.9,1174.6 1073.9,1174.4 1076.8,1174.2 1079.8,1174.3 1082.8,1175.2 1085.8,1175.9 1088.8,1175.3 1091.8,1174.8 1094.7,1174.7 1097.7,1174.9 1100.7,1175.4 1103.7,1176.3 1106.7,1176.6 1109.7,1176.2 1112.7,1175.8 1115.6,1175.7 1118.6,1176.0 1121.6,1176.5 1124.6,1176.3 1127.6,1176.0 1130.6,1176.6 1133.6,1178.0 1136.5,1179.3 1139.5,1179.8 1142.5,1179.7 1145.5,1180.3 1148.5,1180.9 1151.5,1181.1 1154.4,1180.9 1157.4,1180.2 1160.4,1178.9 1163.4,1176.9 1166.4,1175.5 1169.4,1175.2 1172.4,1175.5 1175.3,1175.7 1178.3,1175.5 1181.3,1175.2 1184.3,1174.8 1187.3,1174.4 1190.3,1174.4 1193.2,1173.9 1196.2,1173.5 1199.2,1173.5 1202.2,1172.9 1205.2,1172.1 1208.2,1172.5 1211.2,1174.0 1214.1,1175.5 1217.1,1176.5 1220.1,1176.0 1223.1,1174.0" fill="none" stroke="#000" stroke-width="3.30" stroke-linejoin="round" stroke-linecap="butt" />
<polyline points="1258.1,1186.9 1263.8,1184.0 1266.7,1178.8 1272.4,1179.7 1278.1,1182.6 1283.9,1175.4 1289.6,1178.3 1296.8,1175.4 1301.1,1179.7 1306.8,1175.4 1311.1,1182.6 1315.4,1176.8 1321.1,1178.3 1326.9,1179.7 1332.6,1186.9 1336.9,1172.5 1338.3,1169.7 1342.6,1176.8 1346.9,1166.8 1349.8,1166.8 1352.7,1175.4 1358.4,1178.3 1367.0,1181.1 1375.6,1178.3 1384.2,1179.7 1392.8,1176.0 1400.0,1179.7 1404.3,1174.0 1410.0,1181.1 1415.7,1175.4 1421.5,1184.0 1424.3,1169.7 1427.2,1167.4 1432.9,1175.4 1435.8,1178.3 1438.7,1169.1 1441.5,1178.3 1445.8,1171.1 1448.7,1178.3 1453.0,1172.5 1467.3,1172.5 1471.6,1172.0 1474.5,1176.0 1487.4,1172.5 1496.0,1173.4 1504.6,1171.7 1516.1,1174.0 1521.8,1172.0 1526.1,1175.4 1536.1,1174.0 1540.0,1175.1 1544.6,1182.0 1548.6,1184.3 1552.6,1180.3 1557.2,1178.3 1561.8,1178.6 1565.2,1182.0 1568.1,1185.4 1569.8,1193.5 1571.5,1202.6 1572.7,1210.0 1573.3,1222.9 1575.0,1251.6 1575.8,1286.0 1576.7,1320.4 1577.6,1354.8 1578.4,1400.0 1579.0,1435.9 1579.6,1481.7 1580.7,1527.6 1581.9,1562.0 1583.0,1590.0 1584.1,1611.7 1585.3,1635.8 1587.0,1611.7 1589.3,1590.0 1591.0,1550.5 1592.2,1516.1 1593.3,1481.7 1594.5,1435.9 1595.6,1390.0 1596.2,1366.3 1597.3,1337.6 1597.9,1308.9 1599.1,1286.0 1600.2,1268.8 1601.3,1248.2 1603.1,1232.1 1605.9,1217.2 1609.9,1209.2 1613.4,1202.6 1615.7,1196.9 1620.3,1192.3 1626.0,1189.8 1631.7,1189.5 1638.6,1187.7 1643.2,1186.0 1648.9,1182.6 1654.7,1181.4 1665.0,1180.5 1673.0,1182.0 1677.6,1184.3 1682.8,1184.9 1686.8,1191.2 1691.4,1196.9 1694.8,1202.6 1699.4,1204.9 1702.8,1212.6 1706.3,1221.8 1709.7,1229.8 1710.9,1235.0 1713.7,1237.8 1714.3,1248.2 1715.4,1259.6 1718.3,1266.5 1720.0,1280.3 1722.3,1294.0 1724.0,1303.2 1725.2,1320.4 1727.5,1343.3 1729.8,1366.3 1732.1,1383.5 1733.8,1400.0 1734.4,1434.4 1737.0,1465.4 1739.6,1492.9 1741.8,1503.2 1743.0,1529.0 1744.4,1545.3 1749.9,1537.6 1753.3,1518.7 1757.6,1510.1 1761.1,1503.2 1763.6,1495.5 1766.2,1499.8 1768.8,1492.9 1771.9,1486.5 1775.7,1487.7 1778.3,1494.6 1779.5,1511.8 1780.8,1525.6 1782.6,1518.7 1784.3,1504.9 1787.7,1496.3 1790.3,1491.2 1792.9,1486.9 1794.6,1468.8 1796.3,1443.0 1799.8,1420.6 1802.9,1400.0 1802.8,1395.0 1806.6,1383.7 1810.8,1375.7 1814.0,1364.5 1817.2,1361.2 1821.4,1367.7 1825.2,1366.7 1827.5,1362.8 1829.4,1346.8 1831.0,1340.4 1834.2,1345.2 1836.5,1346.8 1838.1,1338.8 1840.6,1338.1 1842.9,1350.0 1845.1,1362.8 1847.1,1378.9 1849.3,1395.0 1849.6,1400.0 1852.2,1413.8 1853.9,1421.5 1856.5,1425.5 1860.0,1424.9 1862.5,1432.7 1864.3,1441.3 1866.5,1445.1 1869.4,1441.3 1872.0,1434.4 1874.6,1427.5 1876.3,1417.2 1878.9,1400.0 1879.8,1388.5 1882.4,1391.1 1885.3,1386.9 1887.8,1380.5 1891.1,1379.9 1893.3,1385.3 1894.4,1400.0 1896.9,1434.4 1899.5,1477.4 1901.2,1511.8 1903.0,1546.2 1904.7,1580.6 1906.4,1615.0 1909.0,1644.2 1912.1,1662.3 1915.0,1640.8 1917.1,1615.0 1919.3,1589.2 1921.5,1563.4 1923.6,1551.4 1926.2,1539.3 1928.8,1533.3 1932.2,1534.2 1935.6,1537.6 1939.1,1541.9 1942.5,1540.7 1944.2,1529.0 1946.3,1506.6 1948.5,1482.6 1951.1,1468.8 1954.6,1464.0 1956.6,1467.9 1958.9,1475.3 1961.4,1468.8 1964.0,1468.8 1966.3,1474.0 1968.3,1491.2 1970.9,1511.8 1972.6,1537.6 1973.8,1563.4 1974.9,1589.2 1976.1,1615.0 1976.9,1624.5 1978.3,1597.8 1979.5,1572.0 1980.7,1549.6 1982.9,1541.0 1986.4,1537.6 1988.1,1532.4 1990.7,1520.4 1992.4,1506.6 1994.5,1491.2 1996.2,1480.0 1997.9,1478.3 1999.6,1484.3 2001.3,1503.2 2002.7,1518.7 2003.8,1522.5 2005.3,1511.8 2006.2,1489.4 2007.5,1468.8 2008.7,1448.2 2010.1,1425.8 2013.0,1422.4 2014.8,1408.6 2016.1,1400.0 2016.3,1388.5 2019.5,1385.3 2022.1,1369.3 2024.3,1337.2 2026.9,1295.4 2029.1,1272.9 2032.3,1260.1 2035.6,1259.5 2037.8,1253.7 2039.7,1231.2 2042.0,1218.4 2044.5,1205.5 2046.8,1189.5 2049.0,1179.8 2051.0,1177.3 2053.2,1181.4 2055.5,1194.3 2057.4,1198.4 2060.3,1196.5 2062.8,1189.5 2065.4,1176.6 2068.3,1170.2 2070.2,1158.9 2072.5,1156.4 2074.4,1163.8 2075.7,1192.7 2077.3,1256.9 2078.9,1337.2 2079.9,1407.8 2081.2,1337.2 2082.8,1256.9 2084.7,1208.7 2086.9,1187.8 2089.5,1182.1 2091.7,1195.9 2094.0,1212.6 2095.9,1199.1 2098.2,1176.6 2100.7,1168.6 2103.0,1167.0 2106.2,1171.8 2109.4,1179.8 2112.0,1183.7 2115.8,1181.4 2117.4,1171.8 2120.6,1169.5 2123.9,1175.0 2127.1,1182.4 2130.3,1185.6 2133.5,1187.8 2136.1,1199.1 2139.0,1204.5 2143.1,1202.9 2146.3,1195.9 2149.5,1189.5 2152.8,1186.2 2156.0,1187.8 2158.5,1199.1 2161.4,1212.6 2165.6,1213.5 2167.2,1231.2 2168.8,1253.7 2170.4,1265.9 2172.0,1253.7 2174.3,1234.4 2177.5,1228.0 2181.7,1226.4 2185.5,1227.3 2188.1,1236.0 2190.6,1245.6 2193.5,1252.1 2195.5,1264.9 2197.7,1253.7 2200.3,1256.9 2202.5,1253.7 2204.8,1239.2 2209.0,1235.4 2212.8,1229.6 2215.4,1236.0 2220.2,1237.6 2223.4,1239.2 2225.6,1246.6 2229.2,1245.6 2231.4,1240.8 2234.0,1237.6 2236.9,1242.4 2240.1,1248.9 2242.7,1250.5 2245.9,1244.0 2249.1,1238.3 2251.7,1234.4 2253.6,1244.0 2255.5,1253.7 2258.1,1256.2 2260.3,1247.3 2261.9,1234.4 2264.2,1231.2 2266.1,1211.9 2268.4,1203.9 2271.6,1192.7 2273.8,1200.7 2276.4,1195.9 2279.6,1197.5 2282.8,1194.3 2286.0,1191.1 2288.6,1186.2 2290.2,1163.8 2291.5,1162.2 2292.4,1170.2" fill="none" stroke="#000" stroke-width="3.30" stroke-linejoin="round" stroke-linecap="butt" />
</g>
<g shape-rendering="crispEdges">
<line x1="1705.7" y1="392.8" x2="1680.0" y2="361.3" stroke="#000" stroke-width="3.4" stroke-linecap="round"/>
<polygon points="1654.7,330.3 1688.5,354.3 1671.5,368.2" fill="#000"/>
<line x1="1705.7" y1="1010.9" x2="1679.4" y2="979.3" stroke="#000" stroke-width="3.4" stroke-linecap="round"/>
<polygon points="1653.8,948.6 1687.9,972.3 1671.0,986.4" fill="#000"/>
</g>
<g stroke="#000" stroke-width="6.8" stroke-linecap="round" fill="none" shape-rendering="crispEdges">
<line x1="187.6" y1="110.5" x2="187.6" y2="1670.4"/>
<line x1="187.6" y1="1670.4" x2="1221.5" y2="1670.4" stroke-linecap="butt"/>
<line x1="1260.5" y1="1670.4" x2="2292.2" y2="1670.4" stroke-linecap="butt"/>
<line x1="2292.2" y1="1670.4" x2="2292.2" y2="1671.4"/>
<line x1="187.6" y1="1670.4" x2="187.6" y2="1701.2"/>
<line x1="511.6" y1="1670.4" x2="511.6" y2="1701.2"/>
<line x1="835.3" y1="1670.4" x2="835.3" y2="1701.2"/>
<line x1="1157.3" y1="1670.4" x2="1157.3" y2="1701.2"/>
<line x1="1430.5" y1="1670.4" x2="1430.5" y2="1701.2"/>
<line x1="1717.8" y1="1670.4" x2="1717.8" y2="1701.2"/>
<line x1="2005.2" y1="1670.4" x2="2005.2" y2="1701.2"/>
<line x1="2292.2" y1="1670.4" x2="2292.2" y2="1701.2"/>
<line x1="349.4" y1="1670.4" x2="349.4" y2="1686.6"/>
<line x1="673.2" y1="1670.4" x2="673.2" y2="1686.6"/>
<line x1="996.0" y1="1670.4" x2="996.0" y2="1686.6"/>
<line x1="1287.0" y1="1670.4" x2="1287.0" y2="1686.6"/>
<line x1="1574.3" y1="1670.4" x2="1574.3" y2="1686.6"/>
<line x1="1861.3" y1="1670.4" x2="1861.3" y2="1686.6"/>
<line x1="2148.6" y1="1670.4" x2="2148.6" y2="1686.6"/>
<line x1="1204.0" y1="1700.7" x2="1240.2" y2="1641.1" stroke-width="7.7"/>
<line x1="1240.3" y1="1700.7" x2="1276.2" y2="1641.1" stroke-width="7.7"/>
</g>
<g font-size="66.30" text-anchor="middle">
<text transform="translate(187.6,1774.7) scale(1,1.050)">4000</text>
<text transform="translate(511.6,1774.7) scale(1,1.050)">3500</text>
<text transform="translate(835.3,1774.7) scale(1,1.050)">3000</text>
<text transform="translate(1157.3,1774.7) scale(1,1.050)">2500</text>
<text transform="translate(1430.5,1774.7) scale(1,1.050)">2000</text>
<text transform="translate(1717.8,1774.7) scale(1,1.050)">1500</text>
<text transform="translate(2005.2,1774.7) scale(1,1.050)">1000</text>
<text transform="translate(2292.2,1774.7) scale(1,1.050)">500</text>
</g>
<g font-size="81.00">
<text transform="translate(200.9,226.0) scale(1,1.037)">P50%_2 no UV</text>
<text transform="translate(200.9,572.6) scale(1,1.037)">P50%_2 UV</text>
<text transform="translate(196.8,865.4) scale(1,1.037)">P60%_2 no UV</text>
<text transform="translate(200.9,1145.0) scale(1,1.037)">P60%_2 UV</text>
</g>
<text transform="translate(887.9,1912.0) scale(1,1.015)" font-size="81.00">Wavenumber (cm<tspan font-size="48.5" dy="-38.5">-1</tspan><tspan dy="38.5">)</tspan></text>
<text transform="translate(97.0,1266.8) rotate(-90) scale(1,1.020)" font-size="80.60">Transmittance (a.u.)</text>
<text transform="translate(788.0,94.8) scale(1,1.035)" font-size="66.2"><tspan class="s" font-size="71" dy="0">ν</tspan><tspan dx="3">(C-H)</tspan></text>
<text transform="translate(1357.0,168.5) scale(1,1.035)" font-size="66.2"><tspan class="s" font-size="71">ν</tspan><tspan class="s" font-size="62" dx="3.5" dy="-1.5">(</tspan><tspan dx="1.5" dy="1.5">C=O)</tspan></text>
<text transform="translate(1649.5,165.5) scale(1,1.035)" font-size="66.2"><tspan class="s" font-size="71">ν</tspan><tspan dx="3">(C=C)</tspan></text>
</svg></body></html>
